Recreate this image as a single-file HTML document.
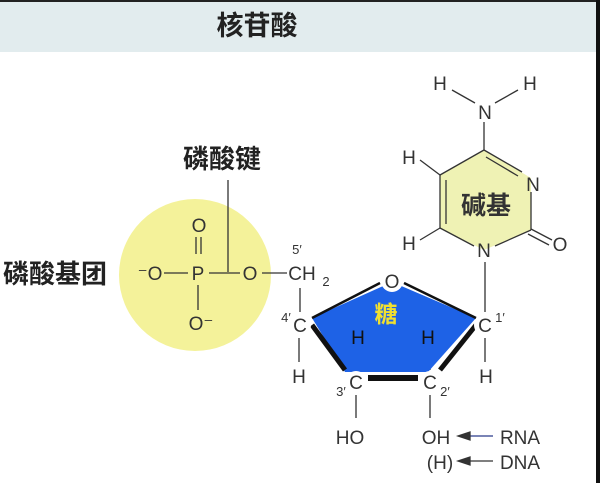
<!DOCTYPE html>
<html><head><meta charset="utf-8"><style>
body{margin:0;width:600px;height:483px;overflow:hidden;background:#fff}
</style></head><body>
<svg width="600" height="483" viewBox="0 0 600 483" xmlns="http://www.w3.org/2000/svg" font-family="Liberation Sans, sans-serif">
<rect x="0" y="0" width="600" height="483" fill="#fff"/>
<rect x="0" y="0" width="600" height="52" fill="#e2ecee"/>
<rect x="0" y="0" width="600" height="2" fill="#222"/>
<rect x="596" y="0" width="4" height="483" fill="#111"/>
<text x="257" y="35" font-size="27" font-weight="bold" text-anchor="middle" fill="#222" font-family="Liberation Sans, Noto Sans CJK SC, sans-serif">核苷酸</text>

<circle cx="195" cy="275" r="76" fill="#f4f29a"/>
<text x="55" y="283" font-size="26" font-weight="bold" text-anchor="middle" fill="#222" font-family="Liberation Sans, Noto Sans CJK SC, sans-serif">磷酸基团</text>
<text x="222" y="168" font-size="26" font-weight="bold" text-anchor="middle" fill="#222" font-family="Liberation Sans, Noto Sans CJK SC, sans-serif">磷酸键</text>
<line x1="228" y1="180" x2="228" y2="272" stroke="#333" stroke-width="1.3"/>

<g fill="#333" font-size="19" text-anchor="middle">
<text x="199" y="232">O</text>
<text x="150" y="280">⁻O</text>
<text x="198" y="280">P</text>
<text x="250" y="280">O</text>
<text x="302" y="280">CH</text><text x="326" y="286" font-size="13">2</text>
<text x="297" y="254" font-size="13">5′</text>
<text x="201" y="330">O⁻</text>
</g>
<g stroke="#333" stroke-width="1.3">
<line x1="196" y1="237" x2="196" y2="254"/><line x1="201" y1="237" x2="201" y2="254"/>
<line x1="164" y1="273" x2="188" y2="273"/><line x1="209" y1="273" x2="240" y2="273"/>
<line x1="262" y1="273" x2="287" y2="273"/>
<line x1="198" y1="285" x2="198" y2="310"/>
<line x1="300" y1="288" x2="300" y2="312"/>
<line x1="299" y1="338" x2="299" y2="362"/>
<line x1="485" y1="338" x2="485" y2="362"/>
<line x1="356" y1="345" x2="356" y2="370"/>
<line x1="430" y1="345" x2="430" y2="370"/>
<line x1="356" y1="395" x2="356" y2="418"/>
<line x1="430" y1="395" x2="430" y2="418"/>
<line x1="485" y1="262" x2="485" y2="312"/>
</g>

<polygon points="392,282 312,318 345,372 428,372 476,318" fill="#1e62e6"/>
<polyline points="312,318 380,283" stroke="#111" stroke-width="2.5" fill="none"/>
<polyline points="404,283 476,318" stroke="#111" stroke-width="2.5" fill="none"/>
<polyline points="312,325 345,370" stroke="#111" stroke-width="5" fill="none"/>
<polyline points="368,378 418,378" stroke="#111" stroke-width="6" fill="none"/>
<polyline points="440,370 476,325" stroke="#111" stroke-width="5" fill="none"/>
<circle cx="392" cy="281" r="11" fill="#fff"/>
<circle cx="300" cy="325" r="11" fill="#fff"/>
<circle cx="485" cy="325" r="11" fill="#fff"/>
<circle cx="356" cy="382" r="11" fill="#fff"/>
<circle cx="430" cy="382" r="11" fill="#fff"/>
<g fill="#333" font-size="19" text-anchor="middle">
<text x="392" y="288">O</text>
<text x="300" y="332">C</text><text x="286" y="322" font-size="13">4′</text>
<text x="485" y="332">C</text><text x="500" y="322" font-size="13">1′</text>
<text x="356" y="389">C</text><text x="341" y="396" font-size="13">3′</text>
<text x="430" y="389">C</text><text x="445" y="396" font-size="13">2′</text>
<text x="299" y="383">H</text>
<text x="486" y="383">H</text>
<text x="350" y="444">HO</text>
<text x="436" y="444">OH</text>
<text x="440" y="469">(H)</text>
<text x="520" y="444">RNA</text>
<text x="520" y="469">DNA</text>
</g>
<text x="358" y="344" font-size="19" text-anchor="middle" fill="#111">H</text>
<text x="428" y="344" font-size="19" text-anchor="middle" fill="#111">H</text>
<text x="386" y="322" font-size="23" font-weight="bold" text-anchor="middle" fill="#f0e030" font-family="Liberation Sans, Noto Sans CJK SC, sans-serif">糖</text>
<g stroke="#333" stroke-width="1.3" fill="#333">
<line x1="462" y1="436" x2="493" y2="436" stroke="#2a3a8a"/><polygon points="458,436 470,432 470,440"/>
<line x1="462" y1="461" x2="493" y2="461"/><polygon points="458,461 470,457 470,465"/>
</g>

<polygon points="484,150 531,178 531,230 484,250 440,228 440,175" fill="#eff2b4"/>
<g stroke="#333" stroke-width="1.3" fill="none">
<line x1="484" y1="150" x2="522" y2="172"/><line x1="486" y1="157" x2="518" y2="176"/>
<line x1="531" y1="192" x2="531" y2="230"/>
<line x1="531" y1="230" x2="495" y2="246"/>
<line x1="531" y1="229" x2="552" y2="240"/><line x1="528" y1="234" x2="549" y2="245"/>
<line x1="474" y1="246" x2="440" y2="228"/>
<line x1="440" y1="228" x2="440" y2="175"/><line x1="446" y1="224" x2="446" y2="180"/>
<line x1="440" y1="175" x2="484" y2="150"/>
<line x1="484" y1="150" x2="484" y2="122"/>
<line x1="475" y1="103" x2="452" y2="90"/><line x1="495" y1="103" x2="518" y2="90"/>
<line x1="440" y1="175" x2="420" y2="160"/>
<line x1="440" y1="228" x2="420" y2="240"/>
</g>
<g fill="#333" font-size="19" text-anchor="middle">
<text x="485" y="119">N</text>
<text x="440" y="90">H</text><text x="530" y="90">H</text>
<text x="533" y="191">N</text>
<text x="484" y="257">N</text>
<text x="560" y="251">O</text>
<text x="409" y="164">H</text>
<text x="409" y="250">H</text>
</g>
<text x="486" y="214" font-size="25" font-weight="bold" text-anchor="middle" fill="#333" font-family="Liberation Sans, Noto Sans CJK SC, sans-serif">碱基</text>
</svg>
</body></html>
